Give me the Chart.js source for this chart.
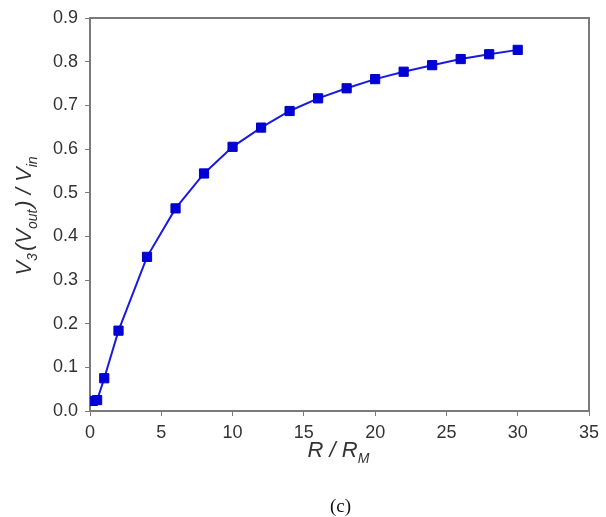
<!DOCTYPE html>
<html>
<head>
<meta charset="utf-8">
<script src="https://cdn.jsdelivr.net/npm/chart.js@4.4.0/dist/chart.umd.min.js"></script>
<style>
  html, body { margin: 0; padding: 0; background: #fff; }
  #wrap { width: 606px; height: 517px; position: relative; }
</style>
</head>
<body>
<div id="wrap"><canvas id="c"></canvas></div>
<script>
// R / R_M values and the measured V3(Vout)/Vin ratio
const rRatio = [0.2, 0.5, 1, 2, 4, 6, 8, 10, 12, 14, 16, 18, 20, 22, 24, 26, 28, 30];
const v3Ratio = [0.023, 0.025, 0.075, 0.184, 0.353, 0.464, 0.544, 0.605, 0.649, 0.687,
                 0.716, 0.739, 0.760, 0.777, 0.792, 0.806, 0.817, 0.827];
const xTicks = [0, 5, 10, 15, 20, 25, 30, 35];
const yTicks = [0, 0.1, 0.2, 0.3, 0.4, 0.5, 0.6, 0.7, 0.8, 0.9];

const axisColor = '#7a7a7a';
const textColor = '#333';

// draw a run of text pieces, some as subscripts
function drawRich(ctx, parts, size, cx, cy) {
  const subSize = Math.round(size * 0.62);
  let total = 0;
  parts.forEach(p => {
    ctx.font = 'italic ' + (p[1] ? subSize : size) + 'px "Liberation Sans", Arial, sans-serif';
    p.w = ctx.measureText(p[0]).width + (p[1] ? 2 : 0);
    total += p.w;
  });
  let x = cx - total / 2;
  parts.forEach(p => {
    ctx.font = 'italic ' + (p[1] ? subSize : size) + 'px "Liberation Sans", Arial, sans-serif';
    ctx.fillText(p[0], x, cy + (p[1] ? size * 0.28 : 0));
    x += p.w;
  });
}

const framePlugin = {
  id: 'frame',
  afterDraw(chart) {
    const ctx = chart.ctx;
    const a = chart.chartArea;
    ctx.save();
    ctx.strokeStyle = axisColor;
    ctx.lineWidth = 2;
    ctx.beginPath();
    ctx.moveTo(a.left, a.top);
    ctx.lineTo(a.right, a.top);
    ctx.lineTo(a.right, a.bottom);
    ctx.stroke();

    ctx.fillStyle = textColor;
    ctx.textBaseline = 'alphabetic';
    ctx.textAlign = 'left';
    // x title
    drawRich(ctx, [['R / R', false], ['M', true]], 22, (a.left + a.right) / 2, 457);
    // y title
    ctx.save();
    ctx.translate(31, 215);
    ctx.rotate(-Math.PI / 2);
    drawRich(ctx, [['V', false], ['3', true], ['(V', false], ['out', true], [') / V', false], ['in', true]], 22, 0, 0);
    ctx.restore();
    // panel label
    ctx.fillStyle = '#111';
    ctx.font = '19px "Liberation Serif", "Times New Roman", serif';
    ctx.textAlign = 'center';
    ctx.fillText('(c)', (a.left + a.right) / 2 + 1, 512);
    ctx.restore();
  }
};

new Chart(document.getElementById('c'), {
  type: 'line',
  data: {
    datasets: [{
      data: rRatio.map((r, i) => ({ x: r, y: v3Ratio[i] })),
      borderColor: '#1a1ae0',
      borderWidth: 2,
      backgroundColor: '#0000d8',
      pointStyle: 'rect',
      pointRadius: 6.5,
      pointBorderWidth: 1,
      pointBorderColor: '#0000c0',
      tension: 0
    }]
  },
  options: {
    responsive: true,
    maintainAspectRatio: false,
    animation: false,
    layout: { padding: { top: 18, right: 17, left: 0, bottom: 0 } },
    plugins: { legend: { display: false }, tooltip: { enabled: false } },
    scales: {
      x: {
        type: 'linear',
        min: 0,
        max: 35,
        afterBuildTicks: s => { s.ticks = xTicks.map(v => ({ value: v })); },
        afterFit: s => { s.height = 106; },
        grid: { drawOnChartArea: false, drawTicks: true, tickLength: 5, color: axisColor },
        border: { color: axisColor, width: 2 },
        ticks: {
          color: textColor,
          padding: 6,
          font: { family: '"Liberation Sans", Arial, sans-serif', size: 18 }
        }
      },
      y: {
        min: 0,
        max: 0.9,
        afterBuildTicks: s => { s.ticks = yTicks.map(v => ({ value: v })); },
        afterFit: s => { s.width = 90; },
        grid: { drawOnChartArea: false, drawTicks: true, tickLength: 5, color: axisColor },
        border: { color: axisColor, width: 2 },
        ticks: {
          color: textColor,
          padding: 7,
          callback: v => v.toFixed(1),
          font: { family: '"Liberation Sans", Arial, sans-serif', size: 18 }
        }
      }
    }
  },
  plugins: [framePlugin]
});
</script>
</body>
</html>
